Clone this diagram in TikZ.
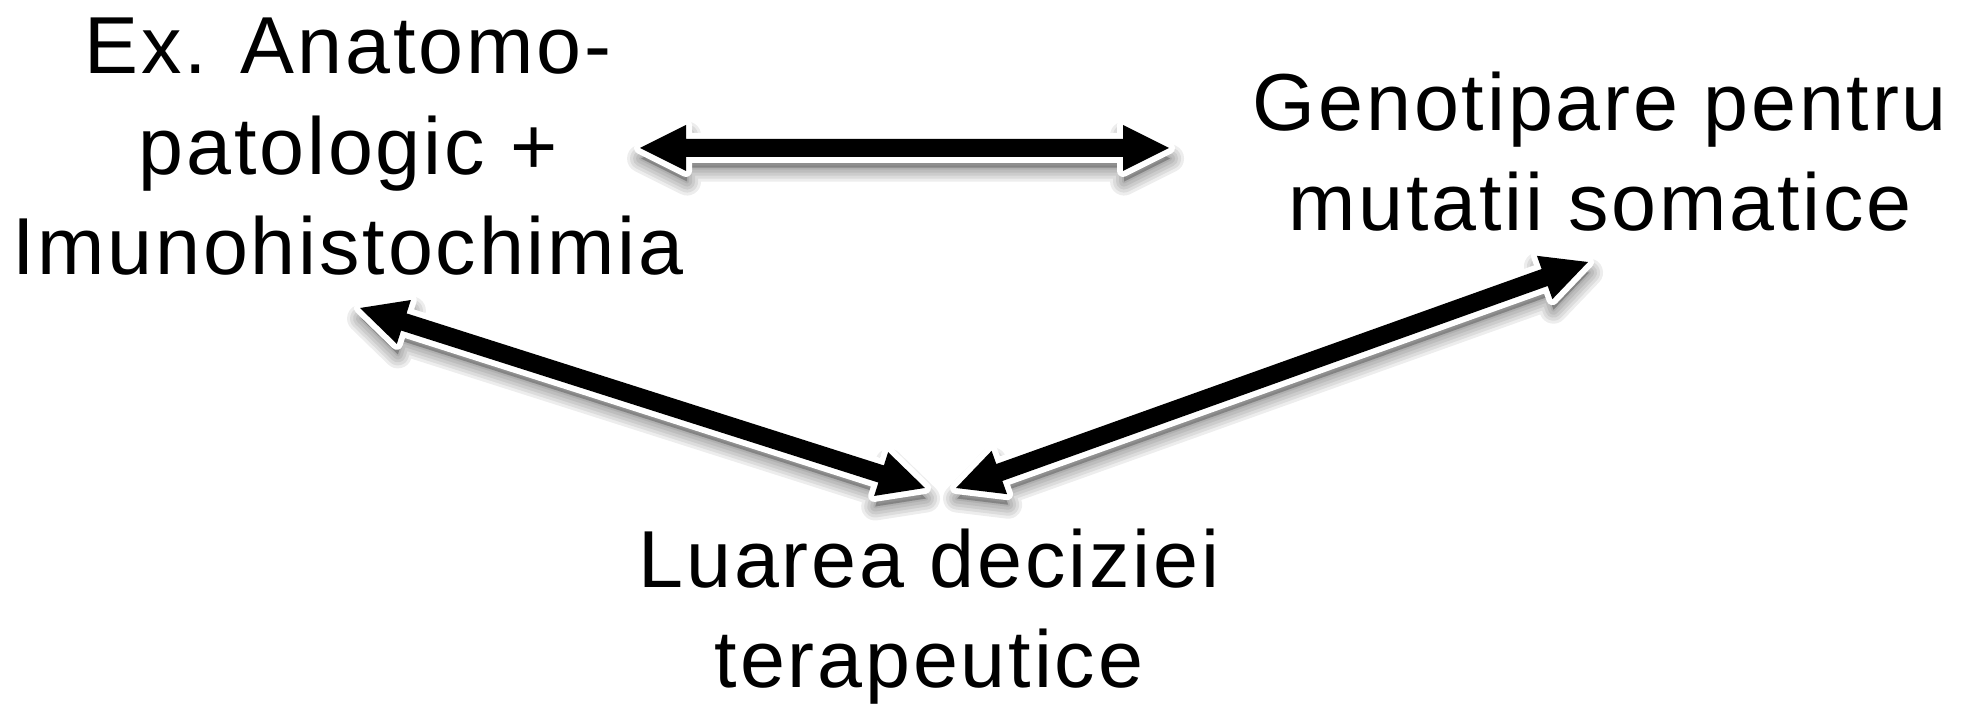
\documentclass[tikz,border=0pt]{standalone}
\usepackage{fontspec}
\setmainfont[LetterSpace=3.5]{Liberation Sans}
\usetikzlibrary{calc}

% fat double-headed arrow with white rim and soft drop shadow
\newcommand\arrowshape{%
  (0,0) -- (0.46,0.23) -- (0.46,0.09) -- ({\arrlen pt-0.46cm},0.09)
  -- ({\arrlen pt-0.46cm},0.23) -- (\arrlen pt,0) -- ({\arrlen pt-0.46cm},-0.23)
  -- ({\arrlen pt-0.46cm},-0.09) -- (0.46,-0.09) -- (0.46,-0.23) -- cycle}
\newcommand\fatarrow[2]{%
  \pgfpointdiff{\pgfpointanchor{#1}{center}}{\pgfpointanchor{#2}{center}}%
  \pgfgetlastxy{\arrdx}{\arrdy}%
  \pgfmathsetmacro\arrlen{veclen(\arrdx,\arrdy)}%
  \pgfmathsetmacro\arrang{atan2(\arrdy,\arrdx)}%
  \foreach \lw in {0.04,0.1,0.16,0.22,0.28}{%
    \begin{scope}[shift={(#1)}, xshift=0.3pt, yshift=-3pt, rotate=\arrang]
      \path[draw=black, draw opacity=0.07, fill=black, fill opacity=0.05,
            line width=\lw cm, line join=round] \arrowshape;
    \end{scope}}
  \begin{scope}[shift={(#1)}, rotate=\arrang]
    \path[draw=white, line width=0.12cm, line join=round] \arrowshape;
    \path[fill=black] \arrowshape;
  \end{scope}}

% anchor=base puts the last line's baseline on the given point
\tikzset{label text/.style={align=center, anchor=base, inner sep=0pt,
  font=\fontsize{23}{28.7}\selectfont, text=black}}

\begin{document}
\begin{tikzpicture}
\useasboundingbox (0,0) rectangle (19.61,7.05);
\fill[white] (0,0) rectangle (19.61,7.05);

\node[label text] (anat) at (3.48,4.30) {Ex. Anatomo-\\patologic +\\Imunohistochimia};
\node[label text] (gen) at (16.00,4.74) {Genotipare pentru\\mutatii somatice};
\node[label text] (dec) at (9.29,0.17) {Luarea deciziei\\terapeutice};

% arrow end points
\coordinate (h1) at (6.40,5.57);
\coordinate (h2) at (11.69,5.57);
\coordinate (l1) at (3.60,3.97);
\coordinate (l2) at (9.25,2.17);
\coordinate (r1) at (15.88,4.43);
\coordinate (r2) at (9.56,2.17);

\fatarrow{h1}{h2}
\fatarrow{l1}{l2}
\fatarrow{r2}{r1}
\end{tikzpicture}
\end{document}
